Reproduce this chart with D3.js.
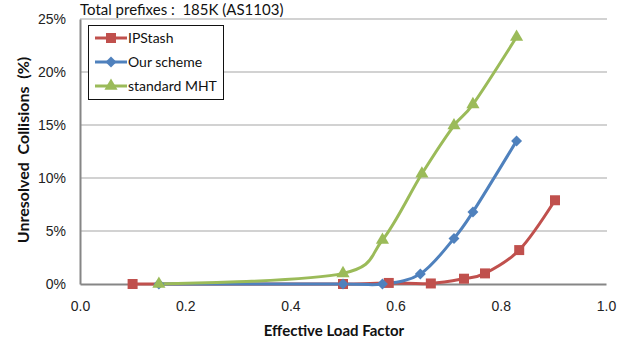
<!DOCTYPE html>
<html><head><meta charset="utf-8">
<script src="https://cdn.jsdelivr.net/npm/d3@7"></script>
<style>body{margin:0;background:#fff}svg{display:block}text{white-space:pre}</style>
</head><body>
<script>
const xTicks = [0.0, 0.2, 0.4, 0.6, 0.8, 1.0];
const yTicks = [0, 5, 10, 15, 20, 25];
const seriesNames = ["IPStash", "Our scheme", "standard MHT"];
const ipstashX = [0.10, 0.50, 0.587, 0.667, 0.730, 0.770, 0.835, 0.903];
const ipstashY = [0.0, 0.0, 0.1, 0.05, 0.5, 1.0, 3.2, 7.9];
const oursX = [0.15, 0.50, 0.575, 0.647, 0.711, 0.747, 0.830];
const oursY = [0.0, 0.0, 0.0, 0.95, 4.3, 6.8, 13.5];
const mhtX = [0.15, 0.50, 0.575, 0.650, 0.711, 0.747, 0.830];
const mhtY = [0.0, 1.0, 4.15, 10.4, 14.95, 16.95, 23.3];
const colors = ["#C0504D", "#4F81BD", "#9BBB59"];

const W = 628, H = 345;
const svg = d3.select("body").append("svg").attr("width", W).attr("height", H)
  .style("font-family", "Lato, 'Open Sans', sans-serif");
const x = d3.scaleLinear().domain([0, 1]).range([80, 606]);
const y = d3.scaleLinear().domain([0, 25]).range([284, 19]);

// gridlines
svg.append("g").selectAll("line").data(yTicks.filter(d => d > 0)).join("line")
  .attr("x1", x(0)).attr("x2", 607).attr("y1", d => y(d)).attr("y2", d => y(d))
  .attr("stroke", "#A6A6A6").attr("stroke-width", 1.2);

// axes
const yAxis = svg.append("g").attr("transform", `translate(${x(0)},0)`)
  .call(d3.axisLeft(y).tickValues(yTicks).tickFormat(d => d + "%").tickSize(0).tickPadding(14));
yAxis.select(".domain").attr("stroke", "#868686").attr("stroke-width", 2);
yAxis.selectAll("text").attr("font-size", 14).attr("fill", "#222");

const xAxis = svg.append("g").attr("transform", `translate(0,${y(0)})`)
  .call(d3.axisBottom(x).tickValues(xTicks).tickFormat(d3.format(".1f")).tickSize(0).tickPadding(17));
xAxis.select(".domain").attr("stroke", "#868686").attr("stroke-width", 2);
xAxis.selectAll("text").attr("font-size", 14).attr("fill", "#222");

// titles
svg.append("text").attr("x", 80).attr("y", 15).attr("font-size", 15).attr("fill", "#111")
  .text("Total prefixes :  185K (AS1103)");
svg.append("text").attr("x", 334).attr("y", 336).attr("text-anchor", "middle")
  .attr("font-size", 15).attr("font-weight", "bold").attr("fill", "#111").text("Effective Load Factor");
svg.append("text").attr("transform", "translate(29,150) rotate(-90)").attr("text-anchor", "middle")
  .attr("font-size", 16).attr("font-weight", "bold").attr("fill", "#111").text("Unresolved  Collisions  (%)");

const diamond = {draw(ctx, size) { const r = Math.sqrt(size / 2); ctx.moveTo(0, -r); ctx.lineTo(r, 0); ctx.lineTo(0, r); ctx.lineTo(-r, 0); ctx.closePath(); }};
const series = [
  {name: seriesNames[0], xs: ipstashX, ys: ipstashY, sym: d3.symbolSquare, size: 100},
  {name: seriesNames[1], xs: oursX, ys: oursY, sym: diamond, size: 60},
  {name: seriesNames[2], xs: mhtX, ys: mhtY, sym: d3.symbolTriangle, size: 75},
];
const line = d3.line().x(d => x(d[0])).y(d => y(d[1])).curve(d3.curveCatmullRom.alpha(0.1));

series.forEach((s, i) => {
  const pts = s.xs.map((v, j) => [v, s.ys[j]]);
  svg.append("path").datum(pts).attr("d", line).attr("fill", "none")
    .attr("stroke", colors[i]).attr("stroke-width", 3).attr("stroke-linejoin", "round");
});
series.forEach((s, i) => {
  const pts = s.xs.map((v, j) => [v, s.ys[j]]);
  svg.append("g").selectAll("path").data(pts).join("path")
    .attr("transform", d => `translate(${x(d[0])},${y(d[1])})`)
    .attr("d", d3.symbol().type(s.sym).size(s.size)).attr("fill", colors[i]);
});

// legend
const lg = svg.append("g");
lg.append("rect").attr("x", 88.5).attr("y", 25.5).attr("width", 135).attr("height", 74)
  .attr("fill", "#fff").attr("stroke", "#111").attr("stroke-width", 1);
series.forEach((s, i) => {
  const ly = 38 + i * 24;
  lg.append("line").attr("x1", 95).attr("x2", 127).attr("y1", ly).attr("y2", ly)
    .attr("stroke", colors[i]).attr("stroke-width", 3);
  lg.append("path").attr("transform", `translate(111,${ly})`)
    .attr("d", d3.symbol().type(s.sym).size(s.size)).attr("fill", colors[i]);
  lg.append("text").attr("x", 128).attr("y", ly + 5).attr("font-size", 14).attr("fill", "#111").text(s.name);
});
</script>
</body></html>
